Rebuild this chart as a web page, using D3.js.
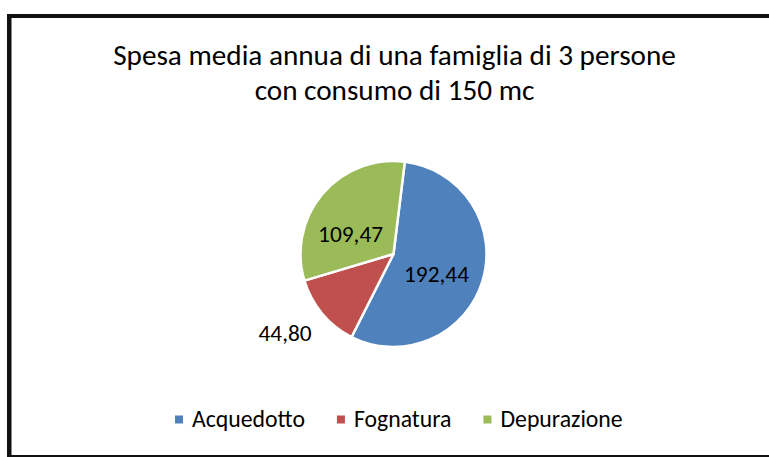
<!DOCTYPE html>
<html>
<head>
<meta charset="utf-8">
<script src="https://cdn.jsdelivr.net/npm/d3@7"></script>
<style>
  html, body { margin: 0; padding: 0; background: #fff; }
  svg { display: block; font-family: Carlito, Calibri, Lato, sans-serif; }
</style>
</head>
<body>
<div id="chart"></div>
<script>
// chart data
const categories = ["Acquedotto", "Fognatura", "Depurazione"];
const values = [192.44, 44.80, 109.47];
const labels = ["192,44", "44,80", "109,47"];
const titleLines = ["Spesa media annua di una famiglia di 3 persone", "con consumo di 150 mc"];
const colors = ["#4F81BD", "#C0504D", "#9BBB59"];

const width = 769, height = 457;
const cx = 393.5, cy = 254, radius = 93;
const startRot = 7 * Math.PI / 180;
// label distance (fraction of radius) and angle nudge (deg) - Excel "best fit"
const labelRadius = [0.51, 1.44, 0.51];
const labelNudge = [8, 4, -15];

let svg = d3.select("#chart")
    .append("svg")
    .attr("width", width)
    .attr("height", height);

// frame (only left, top, bottom visible in the picture)
svg.append("rect").attr("x", 7).attr("y", 14).attr("width", 4.5).attr("height", height - 14).attr("fill", "#111");
svg.append("rect").attr("x", 7).attr("y", 14).attr("width", width - 7).attr("height", 4).attr("fill", "#111");
svg.append("rect").attr("x", 7).attr("y", 455).attr("width", width - 7).attr("height", 2).attr("fill", "#111");

// fit text to a target width
function fitText(sel, targetWidth) {
    let w = sel.node().getComputedTextLength();
    let fs = parseFloat(sel.attr("font-size"));
    sel.attr("font-size", fs * targetWidth / w);
}

// title
let title1 = svg.append("text")
    .attr("x", 394.5).attr("y", 65)
    .attr("text-anchor", "middle")
    .attr("font-size", 26)
    .attr("fill", "#000")
    .text(titleLines[0]);
fitText(title1, 563);
let title2 = svg.append("text")
    .attr("x", 394.5).attr("y", 100)
    .attr("text-anchor", "middle")
    .attr("font-size", title1.attr("font-size"))
    .attr("fill", "#000")
    .text(titleLines[1]);

// pie
let pie = d3.pie().sort(null)
    .startAngle(startRot)
    .endAngle(startRot + 2 * Math.PI);
let arcs = pie(values);
let arc = d3.arc().innerRadius(0).outerRadius(radius);

let g = svg.append("g").attr("transform", `translate(${cx}, ${cy})`);

g.selectAll("path")
    .data(arcs)
    .enter()
    .append("path")
    .attr("d", arc)
    .attr("fill", (d, i) => colors[i])
    .attr("stroke", "#fff")
    .attr("stroke-width", 2.5)
    .attr("stroke-linejoin", "round");

g.selectAll("text.lbl")
    .data(arcs)
    .enter()
    .append("text")
    .attr("class", "lbl")
    .attr("transform", function(d, i) {
        let r = radius * labelRadius[i];
        let a = (d.startAngle + d.endAngle) / 2 + labelNudge[i] * Math.PI / 180;
        return `translate(${r * Math.sin(a)}, ${-r * Math.cos(a)})`;
    })
    .attr("text-anchor", "middle")
    .attr("dy", "0.35em")
    .attr("font-size", 20)
    .attr("fill", "#000")
    .text((d, i) => labels[i]);
// scale labels so "192,44" is ~65px wide
let firstLbl = g.select("text.lbl");
let labelSize = 20 * 65 / firstLbl.node().getComputedTextLength();
g.selectAll("text.lbl").attr("font-size", labelSize);

// legend
let legend = svg.append("g").attr("transform", "translate(0, 419)");
let probe = legend.append("text").attr("font-size", 20).text(categories[0]);
let legendSize = 20 * 113 / probe.node().getComputedTextLength();
probe.remove();

let x0 = 175;
categories.forEach(function(c, i) {
    legend.append("rect")
        .attr("x", x0).attr("y", -3.5)
        .attr("width", 8).attr("height", 8)
        .attr("fill", colors[i]);
    let t = legend.append("text")
        .attr("x", x0 + 17).attr("y", 0)
        .attr("dy", "0.35em")
        .attr("font-size", legendSize)
        .attr("fill", "#000")
        .text(c);
    x0 = x0 + 17 + t.node().getComputedTextLength() + 32;
});
</script>
</body>
</html>
